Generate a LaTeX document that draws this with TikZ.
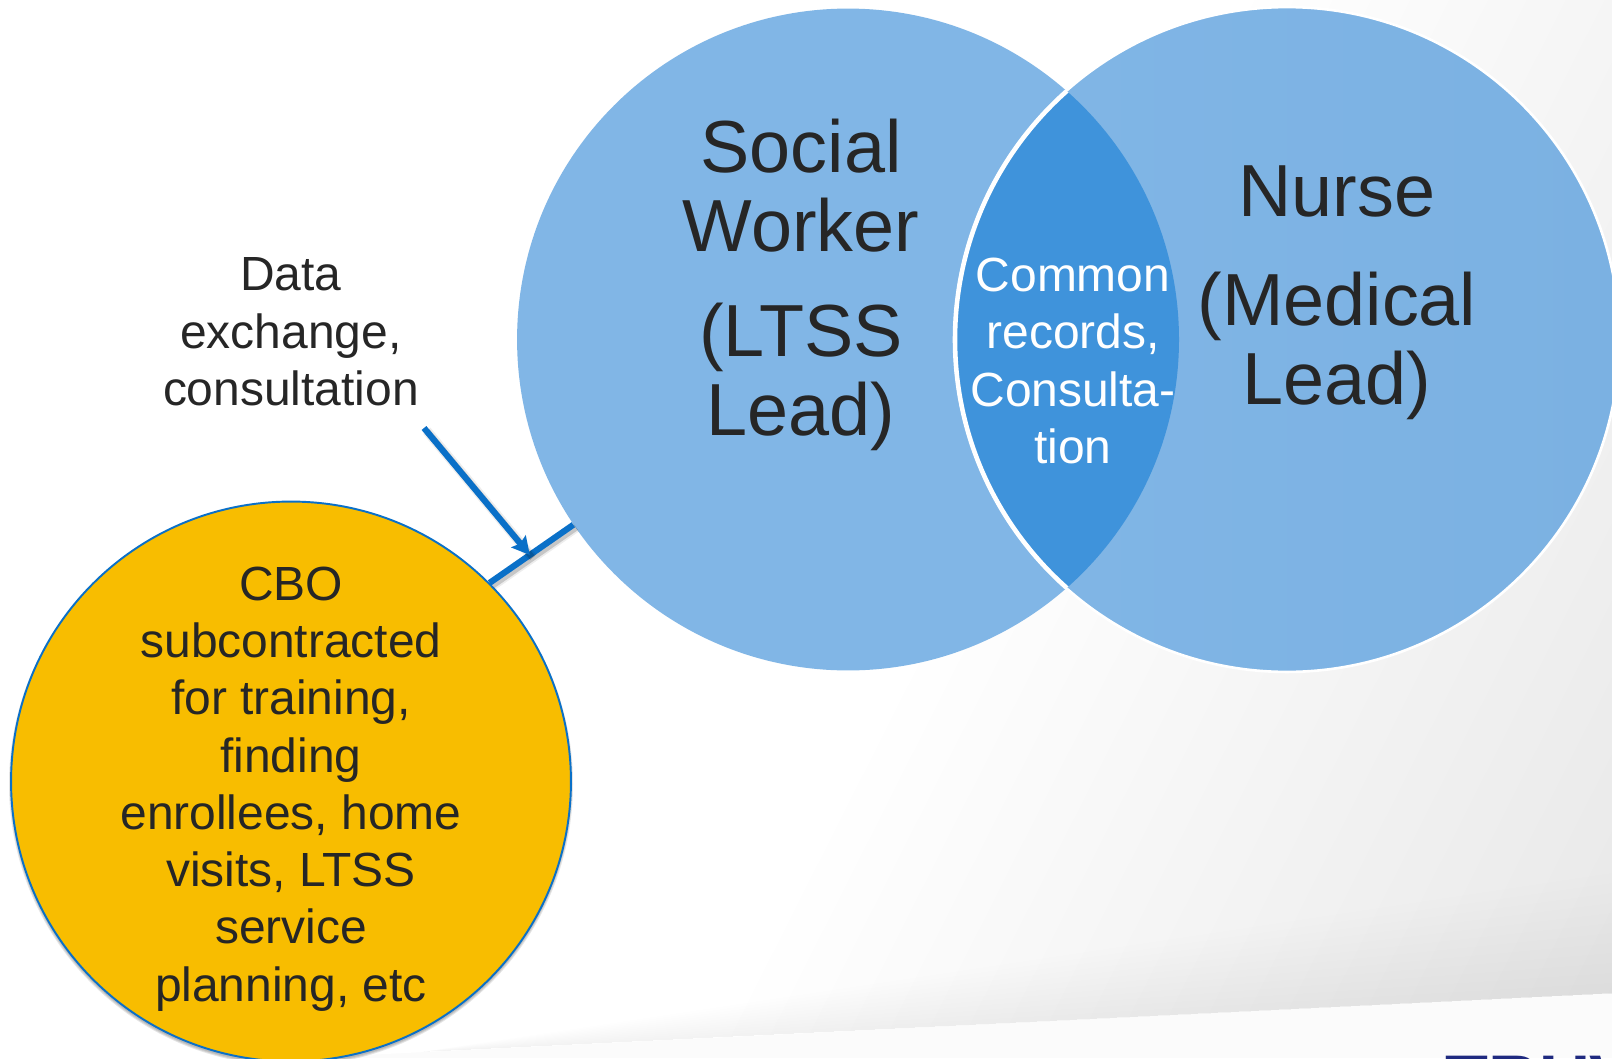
\documentclass[tikz,border=0pt]{standalone}
\usepackage{fontspec}
\setmainfont{Liberation Sans}
\usepackage{xcolor}
\usetikzlibrary{arrows.meta}

\definecolor{lightblue}{HTML}{81B6E6}
\definecolor{nurseblue}{HTML}{7BB1E2}
\definecolor{lensblue}{HTML}{3F93DB}
\definecolor{linkblue}{HTML}{0A70C8}
\definecolor{cbogold}{HTML}{F8BD00}
\definecolor{inkgrey}{HTML}{262626}
\definecolor{logoblue}{HTML}{1F2A80}

\begin{document}
\begin{tikzpicture}[x=0.02cm, y=-0.02cm, >={Stealth[length=10pt,width=10.5pt,inset=1.5pt]}, inner sep=0pt, text=inkgrey]

\tikzstyle{big}=[font=\fontsize{42}{45}\selectfont, align=center]
\tikzstyle{small}=[font=\fontsize{27.3}{32.6}\selectfont, align=center]
\tikzstyle{venn}=[circle, minimum size=13.24cm]
\tikzstyle{link}=[draw=linkblue, line width=3.5pt]
\tikzstyle{softa}=[draw=black, opacity=0.07, line width=5.5pt, transform canvas={xshift=1.6pt,yshift=-1.6pt}]
\tikzstyle{softb}=[draw=black, opacity=0.16, line width=3.5pt, transform canvas={xshift=1.6pt,yshift=-1.6pt}]

\useasboundingbox (0,0) rectangle (1612,1058);
\clip (0,0) rectangle (1612,1058);

% page background
\fill [black!1.5] (0,0) rectangle (1612,1058);
\begin{scope}
\clip (0,0) -- (1612,0) -- (1612,993) -- (305,1058) -- (0,1058) -- cycle;
\fill [white] (0,0) rectangle (1612,1058);
\foreach \i in {0,...,45} {
  \pgfmathsetmacro{\xa}{(1100+17.3*\i+45)/0.89}
  \pgfmathsetmacro{\xb}{(1100+17.3*\i-540)/0.89}
  \pgfmathsetmacro{\g}{0.2*\i}
  \fill [black!\g] (\xa,-100) -- (\xb,1200) -- (2400,1200) -- (2400,-100) -- cycle;
}
\foreach \h in {10,20,...,120}
  \fill [black, opacity=0.0045] (420,1052) -- (1612,993) -- (1612,993-\h) -- cycle;
\end{scope}
\node [anchor=base west, font=\bfseries\fontsize{40}{40}\selectfont, text=logoblue] (logo) at (1445,1104) {TRUVEN};

% the circles
\node [venn, fill=lightblue] (social) at (848,339.5) {};
\node [venn, minimum size=13.30cm, left color=lightblue, right color=nurseblue, draw=white, line width=1.5pt] (nurse) at (1287,339.5) {};
\begin{scope}
\clip (848,339.5) circle (331);
\fill [lensblue] (1287,339.5) circle (331);
\draw [white, line width=2.6pt] (1287,339.5) circle (332);
\end{scope}
\foreach \g in {1,2,3}
  \fill [black, opacity=0.1] (291,784) circle (279+\g);
\node [circle, minimum size=11.2cm, fill=cbogold, draw=linkblue, line width=1.1pt] (cbo) at (291,781.5) {};

% the link
\coordinate (linkfoot) at (424,428);
\path [softa] (cbo.45) -- (social.214);
\path [softb] (cbo.45) -- (social.214);
\path [link] (cbo.45) -- coordinate [pos=0.48] (linktip) (social.214);
\path [softa] (linkfoot) -- (linktip);
\path [softb] (linkfoot) -- (linktip);
\path [link, ->] (linkfoot) -- (linktip);

% the texts
\node [big] (socialtext) at (801,285) {Social\\Worker\\[15pt](LTSS\\Lead)};
\node [big] (nursetext) at (1337,293) {Nurse\\[17pt](Medical\\Lead)};
\node [small, text=white] (lenstext) at (1073,361) {Common\\records,\\Consulta-\\tion};
\node [small] (datatext) at (291,332) {Data\\exchange,\\consultation};
\node [small] (cbotext) at (291,789) {CBO\\subcontracted\\for training,\\finding\\enrollees, home\\visits, LTSS\\service\\planning, etc};

\end{tikzpicture}
\end{document}
